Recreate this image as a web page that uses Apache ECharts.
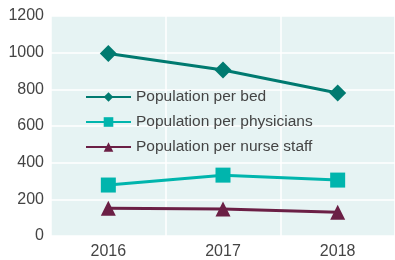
<!DOCTYPE html>
<html>
<head>
<meta charset="utf-8">
<script src="https://cdn.jsdelivr.net/npm/echarts@6/dist/echarts.min.js"></script>
<style>
  html, body { margin: 0; padding: 0; background: #fff; }
  #chart { width: 395px; height: 260px; }
</style>
</head>
<body>
<div id="chart"></div>
<script>
const years = ['2016', '2017', '2018'];
const perBed = [995, 905, 780];
const perPhysician = [278, 332, 305];
const perNurse = [152, 147, 130];
const yTicks = [0, 200, 400, 600, 800, 1000, 1200];

const chart = echarts.init(document.getElementById('chart'));

function line(name, data, color, symbol, size) {
  return {
    name,
    type: 'line',
    data,
    symbol,
    symbolSize: size,
    lineStyle: { color, width: 3 },
    itemStyle: { color },
    z: 3
  };
}

chart.setOption({
  animation: false,
  textStyle: { fontFamily: 'Liberation Sans, Arial, sans-serif' },
  grid: { left: 51, right: 0, top: 16, bottom: 22, show: true, backgroundColor: '#e6f3f3', borderWidth: 0 },
  legend: {
    orient: 'vertical',
    left: 80,
    top: 84,
    itemGap: 9,
    itemWidth: 45,
    itemHeight: 12,
    textStyle: { fontSize: 15.5, color: '#444' },
    data: ['Population per bed', 'Population per physicians', 'Population per nurse staff']
  },
  xAxis: {
    type: 'category',
    data: years,
    axisLine: { show: false },
    axisTick: { show: false },
    axisLabel: { fontSize: 16, color: '#444', margin: 8 },
    splitLine: { show: true, interval: 0, lineStyle: { color: '#fff', width: 1.5 } }
  },
  yAxis: {
    type: 'value',
    min: yTicks[0],
    max: yTicks[yTicks.length - 1],
    interval: 200,
    axisLine: { show: false },
    axisTick: { show: false },
    axisLabel: { fontSize: 16, color: '#444', margin: 7, formatter: v => String(v) },
    splitLine: { lineStyle: { color: '#fff', width: 1.5 } }
  },
  series: [
    line('Population per bed', perBed, '#007a70', 'diamond', 17),
    line('Population per physicians', perPhysician, '#00b5ad', 'rect', 15),
    line('Population per nurse staff', perNurse, '#6b1f45', 'triangle', 15)
  ]
});
</script>
</body>
</html>
